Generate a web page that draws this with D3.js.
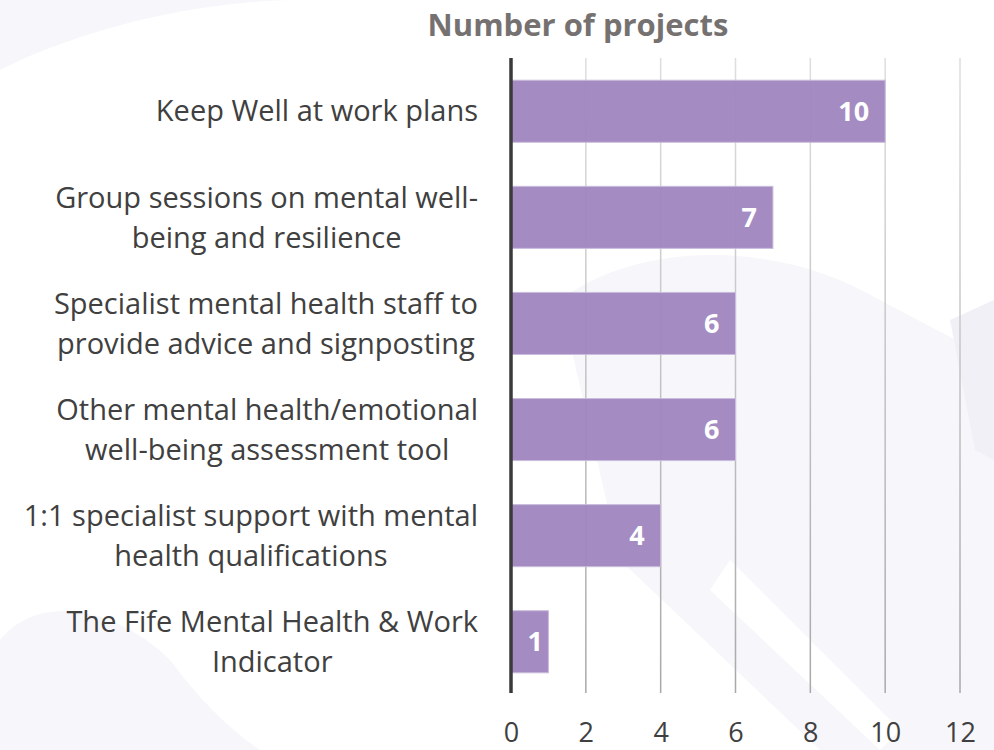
<!DOCTYPE html>
<html>
<head>
<meta charset="utf-8">
<script src="https://cdn.jsdelivr.net/npm/d3@7"></script>
<style>
  body { margin: 0; background: #fff; }
  svg { display: block; }
</style>
</head>
<body>
<div id="chart"></div>
<script>
var categories = [
  ["Keep Well at work plans"],
  ["Group sessions on mental well-", "being and resilience"],
  ["Specialist mental health staff to", "provide advice and signposting"],
  ["Other mental health/emotional", "well-being assessment tool"],
  ["1:1 specialist support with mental", "health qualifications"],
  ["The Fife Mental Health & Work", "Indicator"]
];
var values = [10, 7, 6, 6, 4, 1];
var ticks = [0, 2, 4, 6, 8, 10, 12];
var title = "Number of projects";

var w = 994, h = 750;
var plotLeft = 511, plotRight = 960, plotTop = 58, plotBottom = 693;

var svg = d3.select("#chart").append("svg")
  .attr("width", w)
  .attr("height", h);

// faint watermark shapes behind the chart
var wm = svg.append("g").attr("fill", "#f7f6fa");
wm.append("path").attr("d", "M0,70 C100,20 220,0 300,0 L0,0 Z");
wm.append("path").attr("d", "M0,640 C40,590 120,610 170,660 C200,700 230,730 260,750 L0,750 Z");
wm.append("path").attr("d", "M560,300 C640,240 780,240 880,300 L994,360 L994,750 L820,750 L620,560 Z");
wm.append("path").attr("d", "M994,300 L950,320 L975,450 L994,460 Z").attr("fill", "#f2f0f7");
wm.append("path").attr("d", "M730,560 L900,730 L880,750 L710,590 Z").attr("fill", "#ffffff");

var defs = svg.append("defs");
var grad = defs.append("linearGradient")
  .attr("id", "gridGrad")
  .attr("gradientUnits", "userSpaceOnUse")
  .attr("x1", 0).attr("y1", plotTop).attr("x2", 0).attr("y2", plotBottom);
grad.append("stop").attr("offset", "0%").attr("stop-color", "#dedede");
grad.append("stop").attr("offset", "100%").attr("stop-color", "#a8a8a8");

var x = d3.scaleLinear().domain([0, 12]).range([plotLeft, plotRight]);
var y = d3.scaleBand()
  .domain(d3.range(values.length))
  .range([plotTop + 1, plotBottom + 1])
  .paddingInner(0.415)
  .paddingOuter(0.2);

// gridlines
svg.append("g")
  .selectAll("line")
  .data(ticks.filter(function(d) { return d > 0; }))
  .enter()
  .append("line")
  .attr("x1", function(d) { return x(d); })
  .attr("x2", function(d) { return x(d); })
  .attr("y1", plotTop)
  .attr("y2", plotBottom)
  .attr("stroke", "url(#gridGrad)")
  .attr("stroke-width", 1.5);

// bars
svg.append("g")
  .selectAll("rect")
  .data(values)
  .enter()
  .append("rect")
  .attr("x", x(0))
  .attr("y", function(d, i) { return y(i); })
  .attr("width", function(d) { return x(d) - x(0); })
  .attr("height", y.bandwidth())
  .attr("fill", "#9f86c0")
  .attr("fill-opacity", 0.95)
  .attr("stroke", "#c9bcdc")
  .attr("stroke-width", 1);

// value labels (inside end; short bars get pushed off the axis line)
svg.append("g")
  .selectAll("text")
  .data(values)
  .enter()
  .append("text")
  .attr("x", function(d) { return Math.max(x(d) - 16, x(0) + 32); })
  .attr("y", function(d, i) { return y(i) + y.bandwidth() / 2; })
  .attr("dy", "0.36em")
  .attr("text-anchor", "end")
  .attr("fill", "#fff")
  .attr("font-family", "Open Sans, sans-serif")
  .attr("font-weight", "bold")
  .attr("font-size", 27)
  .text(function(d) { return d; });

// axis line at zero
svg.append("line")
  .attr("x1", x(0)).attr("x2", x(0))
  .attr("y1", plotTop).attr("y2", plotBottom)
  .attr("stroke", "#3a3a3a")
  .attr("stroke-width", 3.5);

// x tick labels
var xAxis = d3.axisBottom(x).tickValues(ticks).tickSize(0).tickPadding(0);
var ax = svg.append("g")
  .attr("transform", "translate(0," + 723 + ")")
  .call(xAxis);
ax.select(".domain").remove();
ax.selectAll("text")
  .attr("font-family", "Open Sans, sans-serif")
  .attr("font-size", 27)
  .attr("fill", "#404040");

// category labels, block right-aligned, lines centred within block
var labelRight = 478;
var lineH = 40;
var cats = svg.append("g")
  .attr("font-family", "Open Sans, sans-serif")
  .attr("font-size", 29)
  .attr("fill", "#404040");

categories.forEach(function(lines, i) {
  var g = cats.append("g");
  var cy = y(i) + y.bandwidth() / 2;
  var y0 = cy - (lines.length - 1) * lineH / 2;
  var texts = g.selectAll("text")
    .data(lines)
    .enter()
    .append("text")
    .attr("y", function(d, j) { return y0 + j * lineH; })
    .attr("dy", "0.35em")
    .attr("text-anchor", "middle")
    .text(function(d) { return d; });
  var maxW = 0;
  texts.each(function() { maxW = Math.max(maxW, this.getComputedTextLength()); });
  texts.attr("x", labelRight - maxW / 2);
});

// title
svg.append("text")
  .attr("x", 578)
  .attr("y", 25)
  .attr("dy", "0.35em")
  .attr("text-anchor", "middle")
  .attr("font-family", "Open Sans, sans-serif")
  .attr("font-weight", "bold")
  .attr("font-size", 31)
  .attr("fill", "#767171")
  .text(title);
</script>
</body>
</html>
